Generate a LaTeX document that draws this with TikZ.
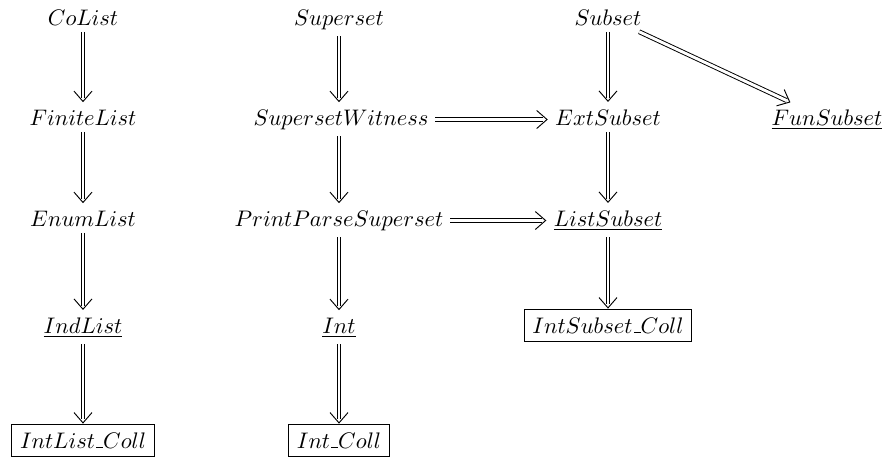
\documentclass[tikz,border=0pt]{standalone}
\usetikzlibrary{arrows.meta}
\newcommand\usc{\leavevmode\kern.06em\vbox{\hrule width.3em}}
\newcommand\darrow[2]{%
  \draw[dshaft] #1 -- #2;
  \draw[dtip] #1 -- #2;}
\begin{document}
\begin{tikzpicture}[x=0.4446pt, y=-0.4446pt,
  lbl/.style={anchor=base, inner sep=3pt, outer sep=0pt},
  boxed/.style={lbl, draw, line width=0.4pt, inner sep=3.6pt},
  dshaft/.style={double, double distance=1.3pt, line width=0.42pt, shorten >=2.2pt},
  dtip/.style={draw=white, line width=0.2pt, shorten >=0.3pt,
     -{Straight Barb[length=4.6pt, width=8pt, line width=0.42pt, color=black]}}]
\useasboundingbox (0,0) rectangle (887,456);
% column 1
\node[lbl] (colist) at (83,25) {$CoList$};
\node[lbl] (finitelist) at (83,125) {$FiniteList$};
\node[lbl] (enumlist) at (83,226) {$EnumList$};
\node[lbl] (indlist) at (83,333) {$\underline{IndList}$};
\node[boxed] (intlistcoll) at (83,448) {$IntList\mbox{\usc}Coll$};
% column 2
\node[lbl] (superset) at (339,25) {$Superset$};
\node[lbl] (supwit) at (341,125) {$SupersetWitness$};
\node[lbl] (pps) at (339,226) {$PrintParseSuperset$};
\node[lbl] (int) at (339,333) {$\underline{Int}$};
\node[boxed] (intcoll) at (339,448) {$Int\mbox{\usc}Coll$};
% column 3
\node[lbl] (subset) at (608,25) {$Subset$};
\node[lbl] (extsubset) at (608,125) {$ExtSubset$};
\node[lbl] (listsubset) at (608,226) {$\underline{ListSubset}$};
\node[boxed] (intsubcoll) at (608,333) {$IntSubset\mbox{\usc}Coll$};
% column 4
\node[lbl] (funsubset) at (827,125) {$\underline{FunSubset}$};
% arrows
\darrow{(colist)}{(finitelist)}
\darrow{(finitelist)}{(enumlist)}
\darrow{(enumlist)}{(indlist)}
\darrow{(indlist)}{(intlistcoll)}
\darrow{(superset)}{(superset |- supwit.north)}
\darrow{(superset |- supwit.south)}{(superset |- pps.north)}
\darrow{(pps)}{(int)}
\darrow{(int)}{(intcoll)}
\darrow{(subset)}{(extsubset)}
\darrow{(extsubset)}{(listsubset)}
\darrow{(listsubset)}{(intsubcoll)}
\darrow{(supwit.east)}{(supwit.east -| extsubset.west)}
\darrow{(pps.east)}{(pps.east -| listsubset.west)}
\darrow{(subset)}{(funsubset)}
\end{tikzpicture}
\end{document}
